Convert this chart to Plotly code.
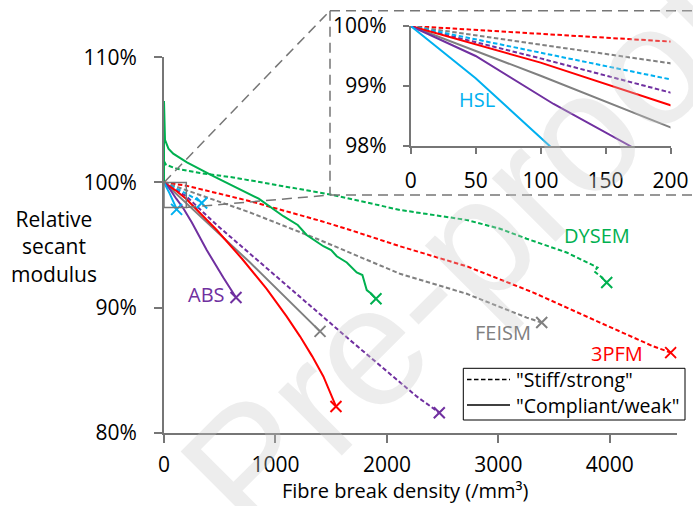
import plotly.graph_objects as go

W, H = 693, 506

# ---------------- data: x = fibre break density (/mm3), y = relative secant modulus (%)
# "Stiff/strong" (dashed) curves
dysem_stiff_x = [0, 20, 114, 323, 622, 1070, 1516, 2117, 2566, 2716, 3015, 3254, 3613, 3850, 3890, 3860, 3930]
dysem_stiff_y = [101.7, 101.4, 101.1, 100.75, 100.4, 99.7, 99.0, 97.8, 97.2, 97.0, 96.3, 95.5, 94.4, 93.4, 93.2, 92.9, 92.4]
dysem_stiff_end = (3972, 92.0)

pfm_stiff_x = [0, 100, 200, 773, 1415, 1669, 2117, 2716, 3314, 3912, 4390]
pfm_stiff_y = [100, 99.87, 99.74, 98.5, 96.9, 96.2, 94.9, 93.3, 91.2, 88.8, 86.9]
pfm_stiff_end = (4546, 86.4)

feism_stiff_x = [0, 100, 200, 772, 1370, 2117, 2716, 3254]
feism_stiff_y = [100, 99.69, 99.38, 97.6, 95.5, 92.7, 91.1, 89.2]
feism_stiff_end = (3389, 88.8)

abs_stiff_x = [0, 100, 200, 473, 1071, 1669, 2267]
abs_stiff_y = [100, 99.46, 98.89, 96.6, 92.0, 87.4, 82.9]
abs_stiff_end = (2470, 81.6)

hsl_stiff_x = [0, 100, 200, 300]
hsl_stiff_y = [100, 99.56, 99.11, 98.6]
hsl_stiff_end = (338, 98.35)

# "Compliant/weak" (solid) curves
dysem_weak_x = [0, 0, 9, 40, 83, 206, 442, 850, 1071, 1200, 1280, 1430, 1500, 1550, 1640, 1729, 1780, 1819, 1860]
dysem_weak_y = [100, 106.5, 103.4, 102.7, 102.3, 101.6, 100.5, 98.7, 97.3, 96.6, 95.8, 94.9, 94.6, 94.1, 93.6, 92.8, 92.6, 91.4, 91.1]
dysem_weak_end = (1902, 90.7)

pfm_weak_x = [0, 100, 200, 368, 473, 700, 921, 1100, 1220, 1330, 1430]
pfm_weak_y = [100, 99.39, 98.68, 97.2, 96.2, 93.9, 91.5, 89.3, 87.7, 86.1, 84.5]
pfm_weak_end = (1543, 82.1)

feism_weak_x = [0, 100, 200, 772]
feism_weak_y = [100, 99.17, 98.31, 93.6]
feism_weak_end = (1400, 88.1)

abs_weak_x = [0, 50, 110, 169, 250, 383, 532, 607]
abs_weak_y = [100, 99.5, 98.7, 98.0, 96.8, 94.6, 92.4, 91.4]
abs_weak_end = (646, 90.8)

hsl_weak_x = [0, 50, 107]
hsl_weak_y = [100, 99.13, 98.0]
hsl_weak_end = (113, 97.85)

# axis ticks
x_ticks = [0, 1000, 2000, 3000, 4000]
y_ticks = [80, 90, 100, 110]
x2_ticks = [0, 50, 100, 150, 200]
y2_ticks = [98, 99, 100]

legend_labels = ['"Stiff/strong"', '"Compliant/weak"']

GREEN, RED, GREY, PURPLE, CYAN = "#00b050", "#ff0000", "#808080", "#7030a0", "#00b0f0"
STIFF_DASH = "4.5px,2.5px"

series = [
    (dysem_stiff_x, dysem_stiff_y, dysem_stiff_end, GREEN, STIFF_DASH),
    (pfm_stiff_x, pfm_stiff_y, pfm_stiff_end, RED, STIFF_DASH),
    (feism_stiff_x, feism_stiff_y, feism_stiff_end, GREY, STIFF_DASH),
    (abs_stiff_x, abs_stiff_y, abs_stiff_end, PURPLE, STIFF_DASH),
    (hsl_stiff_x, hsl_stiff_y, hsl_stiff_end, CYAN, STIFF_DASH),
    (dysem_weak_x, dysem_weak_y, dysem_weak_end, GREEN, "solid"),
    (feism_weak_x, feism_weak_y, feism_weak_end, GREY, "solid"),
    (pfm_weak_x, pfm_weak_y, pfm_weak_end, RED, "solid"),
    (abs_weak_x, abs_weak_y, abs_weak_end, PURPLE, "solid"),
    (hsl_weak_x, hsl_weak_y, hsl_weak_end, CYAN, "solid"),
]

FONT = "Open Sans"
FS = 20
TFS = 21
LFS = 19.5
AX = "#767676"

# layout geometry (paper fractions)
XD = [164 / W, 676.7 / W]
YD = [1 - 432.7 / H, 1 - 57.3 / H]
X2D = [410.7 / W, 670.5 / W]
Y2D = [1 - 146 / H, 1 - 26 / H]
XR = [0, 4600]
YR = [80, 110]


def to_paper(x, y):
    px = XD[0] + (x - XR[0]) / (XR[1] - XR[0]) * (XD[1] - XD[0])
    py = YD[0] + (y - YR[0]) / (YR[1] - YR[0]) * (YD[1] - YD[0])
    return px, py


fig = go.Figure()

# watermark
fig.add_annotation(text="Pre-proof", xref="paper", yref="paper", x=462 / W, y=1 - 252 / H,
                   xanchor="center", yanchor="middle",
                   showarrow=False, textangle=-45,
                   font=dict(family="Liberation Sans", size=170, color="rgba(200,200,200,0.33)"))

for xs, ys, end, col, dash in series:
    fig.add_trace(go.Scatter(x=xs + [end[0]], y=ys + [end[1]], mode="lines",
                             line=dict(color=col, width=2, dash=dash),
                             showlegend=False, hoverinfo="skip"))
    fig.add_trace(go.Scatter(x=[end[0]], y=[end[1]], mode="markers",
                             marker=dict(symbol="x-thin", size=11, line=dict(color=col, width=2)),
                             showlegend=False, hoverinfo="skip"))
    # inset copy
    fig.add_trace(go.Scatter(x=xs + [end[0]], y=ys + [end[1]], mode="lines", xaxis="x2", yaxis="y2",
                             line=dict(color=col, width=2, dash=dash),
                             showlegend=False, hoverinfo="skip"))

axis_common = dict(showline=True, linecolor=AX, linewidth=2, ticks="outside", tickcolor=AX,
                   tickwidth=2, showgrid=False, zeroline=False, automargin=False,
                   tickfont=dict(family=FONT, size=TFS, color="black"))

fig.update_layout(
    width=W, height=H, margin=dict(l=0, r=0, t=0, b=0),
    paper_bgcolor="white", plot_bgcolor="rgba(0,0,0,0)",
    font=dict(family=FONT, size=FS, color="black"),
    showlegend=False,
    xaxis=dict(domain=XD, range=XR, tickvals=x_ticks, ticktext=[str(v) for v in x_ticks],
               ticklen=8, ticklabelstandoff=4, **axis_common),
    yaxis=dict(domain=YD, range=YR, tickvals=y_ticks, ticktext=[f"{v}%" for v in y_ticks],
               ticklen=8, ticklabelstandoff=13, **axis_common),
    xaxis2=dict(domain=X2D, range=[0, 200], tickvals=x2_ticks, ticktext=[str(v) for v in x2_ticks],
                anchor="y2", ticklen=6, ticklabelstandoff=9, **axis_common),
    yaxis2=dict(domain=Y2D, range=[98, 100], tickvals=y2_ticks, ticktext=[f"{v}%" for v in y2_ticks],
                anchor="x2", ticklen=6, ticklabelstandoff=12, **axis_common),
)

# zoom rectangle on main chart and connecting dashed lines + inset box
fig.add_shape(type="rect", xref="x", yref="y", x0=0, x1=x2_ticks[-1], y0=y2_ticks[0], y1=y2_ticks[-1],
              line=dict(color=AX, width=1.5))
box_l, box_t, box_b = 330 / W, 1 - 10.7 / H, 1 - 195 / H
tlx, tly = to_paper(0, y2_ticks[-1])
brx, bry = to_paper(x2_ticks[-1], y2_ticks[0])
zl = dict(color=AX, width=1.5, dash="10px,6px")
fig.add_shape(type="line", xref="paper", yref="paper", x0=tlx, y0=tly, x1=box_l, y1=box_t, line=zl)
fig.add_shape(type="line", xref="paper", yref="paper", x0=brx, y0=bry, x1=box_l, y1=box_b, line=zl)
fig.add_shape(type="line", xref="paper", yref="paper", x0=box_l, y0=box_t, x1=1.01, y1=box_t, line=zl)
fig.add_shape(type="line", xref="paper", yref="paper", x0=box_l, y0=box_t, x1=box_l, y1=box_b, line=zl)
fig.add_shape(type="line", xref="paper", yref="paper", x0=box_l, y0=box_b, x1=1.01, y1=box_b, line=zl)

# legend box (drawn manually to match the compact original)
lg_l, lg_r, lg_t, lg_b = 463.3 / W, 685 / W, 1 - 368.3 / H, 1 - 420 / H
fig.add_shape(type="rect", xref="paper", yref="paper", x0=lg_l, x1=lg_r, y0=lg_b, y1=lg_t,
              line=dict(color="black", width=1), fillcolor="white")
for i, (lab, dash) in enumerate(zip(legend_labels, [STIFF_DASH, "solid"])):
    yy = 1 - (379.5 + 25.5 * i) / H
    fig.add_shape(type="line", xref="paper", yref="paper", x0=467 / W, x1=510 / W, y0=yy, y1=yy,
                  line=dict(color="black", width=1.5, dash=dash))
    fig.add_annotation(text=lab, xref="paper", yref="paper", x=514 / W, y=yy, xanchor="left",
                       yanchor="middle", showarrow=False, font=dict(family=FONT, size=LFS))

# series labels
labels = [
    ("DYSEM", 3883, 95.75, GREEN, "x", "y"),
    ("3PFM", 4062, 86.33, RED, "x", "y"),
    ("FEISM", 3044, 88.03, GREY, "x", "y"),
    ("ABS", 383, 91.04, PURPLE, "x", "y"),
    ("HSL", 51, 98.78, CYAN, "x2", "y2"),
]
for t, x, y, c, xr, yr in labels:
    fig.add_annotation(text=t, x=x, y=y, xref=xr, yref=yr, showarrow=False,
                       xanchor="center", yanchor="middle",
                       font=dict(family=FONT, size=FS, color=c))

# axis titles
fig.add_annotation(text="Fibre break density (/mm³)", xref="paper", yref="paper",
                   x=405 / W, y=1 - 490 / H, xanchor="center", yanchor="middle",
                   showarrow=False, font=dict(family=FONT, size=FS))
fig.add_annotation(text="Relative<br>secant<br>modulus", xref="paper", yref="paper",
                   x=54 / W, y=1 - 246 / H, xanchor="center", yanchor="middle",
                   showarrow=False, align="center", font=dict(family=FONT, size=TFS))

fig.write_html("out.html")
